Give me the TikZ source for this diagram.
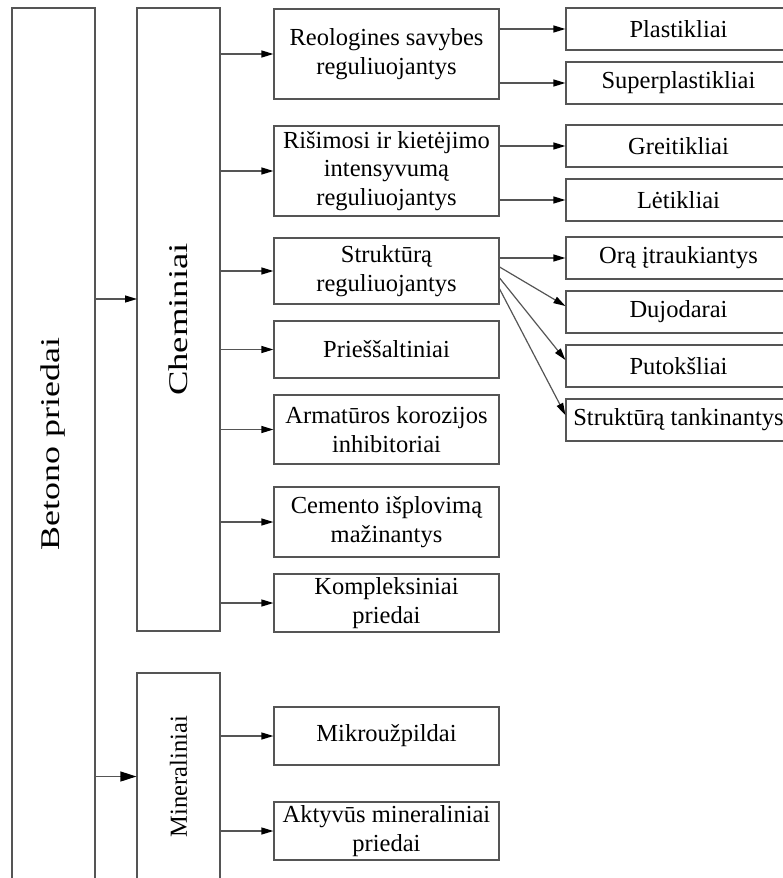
\documentclass[tikz,border=0pt]{standalone}
\usepackage{fontspec}
\setmainfont{Liberation Serif}
\usetikzlibrary{arrows.meta}
\definecolor{linegray}{HTML}{555555}
\tikzset{every node/.style={inner sep=0pt, align=center, text=black, font=\fontsize{24.5}{28.5}\selectfont},
  box/.style={draw=linegray, minimum width=225pt},
  col/.style={draw=linegray, rotate=90, minimum height=83pt},
  arr/.style={draw=linegray, -{Triangle[length=12pt,width=7pt,color=black]}}}

\begin{document}
\begin{tikzpicture}[x=1pt,y=-1pt,line width=1.2pt]
   \clip (0,0) rectangle (783,878);
   \node[col, minimum width=872pt, font=\fontsize{27}{30}\selectfont] (betono) at (53.5,444) {\scalebox{1.33}[1]{Betono priedai}};
   \node[col, minimum width=623pt, font=\fontsize{27}{30}\selectfont] (chem) at (178.5,319.5) {\scalebox{1.36}[1]{Cheminiai}};
   \node[col, minimum width=207pt, font=\fontsize{24.5}{28}\selectfont] (miner) at (178.5,776.5) {Mineraliniai};
   \node[box, minimum height=90pt] (reol) at (386.5,54) {Reologines savybes\\reguliuojantys};
   \node[box, minimum height=90pt] (risim) at (386.5,171) {Rišimosi ir kietėjimo\\intensyvumą\\reguliuojantys};
   \node[box, minimum height=66pt] (strukt) at (386.5,271) {Struktūrą\\reguliuojantys};
   \node[box, minimum height=57pt] (priesal) at (386.5,349.5) {Prieššaltiniai};
   \node[box, minimum height=69pt] (armat) at (386.5,429.5) {Armatūros korozijos\\inhibitoriai};
   \node[box, minimum height=70pt] (cement) at (386.5,522) {Cemento išplovimą\\mažinantys};
   \node[box, minimum height=58pt] (kompl) at (386.5,603) {Kompleksiniai\\priedai};
   \node[box, minimum height=58pt] (mikro) at (386.5,736) {Mikroužpildai};
   \node[box, minimum height=58pt] (aktyv) at (386.5,831) {Aktyvūs mineraliniai\\priedai};
   \node[box, minimum height=42pt] (plast) at (678.5,29) {Plastikliai};
   \node[box, minimum height=42pt] (super) at (678.5,83) {Superplastikliai};
   \node[box, minimum height=42pt] (greit) at (678.5,146) {Greitikliai};
   \node[box, minimum height=42pt] (letik) at (678.5,200) {Lėtikliai};
   \node[box, minimum height=42pt] (ora) at (678.5,258) {Orą įtraukiantys};
   \node[box, minimum height=42pt] (dujod) at (678.5,312) {Dujodarai};
   \node[box, minimum height=42pt] (putok) at (678.5,366) {Putokšliai};
   \node[box, minimum height=42pt] (tankin) at (678.5,420) {Struktūrą tankinantys};
   \coordinate (chemin) at (137,299);
   \draw[arr] (betono.south |- chemin) -- (chemin);
   \draw[arr, -{Triangle[length=16pt,width=10pt,color=black]}] (betono.south |- miner.center) -- (miner.north);
   \foreach \n in {reol,risim,strukt,priesal,armat,cement,kompl}
     \draw[arr] (chem.south |- \n.west) -- (\n.west);
   \foreach \n in {mikro,aktyv}
     \draw[arr] (miner.south |- \n.west) -- (\n.west);
   \draw[arr] (reol.east |- plast.west) -- (plast.west);
   \draw[arr] (reol.east |- super.west) -- (super.west);
   \draw[arr] (risim.east |- greit.west) -- (greit.west);
   \draw[arr] (risim.east |- letik.west) -- (letik.west);
   \draw[arr] (strukt.east |- ora.west) -- (ora.west);
   \draw[arr] ([yshift=4pt]strukt.east) -- ([yshift=6pt]dujod.west);
   \draw[arr] ([yshift=-7pt]strukt.east) -- ([yshift=6pt]putok.west);
   \draw[arr] ([yshift=-18pt]strukt.east) -- ([yshift=5pt]tankin.west);
  \end{tikzpicture}
\end{document}
